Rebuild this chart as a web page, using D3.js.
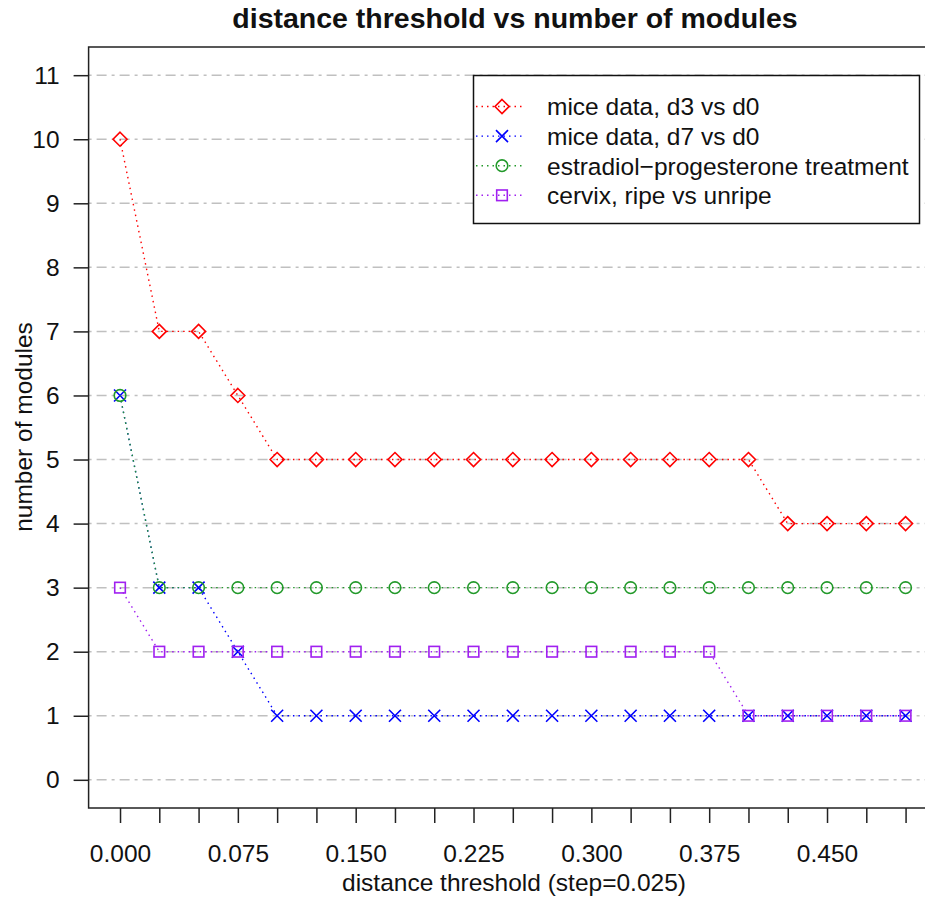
<!DOCTYPE html>
<html><head><meta charset="utf-8">
<script src="https://cdn.jsdelivr.net/npm/d3@7"></script>
<style>body{margin:0;background:#fff}svg{display:block;font-family:"Liberation Sans",Arial,sans-serif}</style>
</head><body><svg id="c" width="925" height="903"></svg>
<script>
const thresholds = d3.range(0, 21).map(i => +(i * 0.025).toFixed(3));
const miceD3 = [10,7,7,6,5,5,5,5,5,5,5,5,5,5,5,5,5,4,4,4,4];
const miceD7 = [6,3,3,2,1,1,1,1,1,1,1,1,1,1,1,1,1,1,1,1,1];
const estradiol = [6,3,3,3,3,3,3,3,3,3,3,3,3,3,3,3,3,3,3,3,3];
const cervix = [3,2,2,2,2,2,2,2,2,2,2,2,2,2,2,2,1,1,1,1,1];
const xTickLabels = ["0.000","0.075","0.150","0.225","0.300","0.375","0.450"];
const yTicks = d3.range(0, 12);
const seriesNames = ["mice data, d3 vs d0","mice data, d7 vs d0","estradiol\u2212progesterone treatment","cervix, ripe vs unripe"];
const seriesColors = ["#FF0000","#0000FF","#22992a","#A020F0"];
const seriesShapes = ["diamond","cross","circle","square"];
const seriesValues = [miceD3, miceD7, estradiol, cervix];

const FS = 24.5;
const svg = d3.select("#c");
const L = 88.6, R = 937, T = 47, B = 808;
const x = d3.scaleLinear().domain([-0.02, 0.52]).range([L, R]);
const y = d3.scaleLinear().domain([-0.44, 11.44]).range([B, T]);

// grid
svg.append("g").selectAll("line").data(yTicks).join("line")
  .attr("x1", L).attr("x2", R).attr("y1", d => y(d)).attr("y2", d => y(d))
  .attr("stroke", "#c0c0c0").attr("stroke-width", 1.5).attr("stroke-dasharray", "3,5,10,5");

// box
svg.append("rect").attr("x", L).attr("y", T).attr("width", R - L).attr("height", B - T)
  .attr("fill", "none").attr("stroke", "#222").attr("stroke-width", 1.5);

// y axis
const yAxis = d3.axisLeft(y).tickValues(yTicks).tickSize(15).tickPadding(14).tickFormat(d3.format("d"));
const gy = svg.append("g").attr("transform", `translate(${L},0)`).call(yAxis);
gy.select(".domain").remove();
gy.selectAll("line").attr("stroke", "#222").attr("stroke-width", 1.5);
gy.selectAll("text").attr("font-size", FS).attr("fill", "#111").attr("font-family", "Liberation Sans, Arial, sans-serif");

// x axis
const labelMap = new Map(xTickLabels.map(s => [+s, s]));
const xAxis = d3.axisBottom(x).tickValues(thresholds).tickSize(15).tickPadding(16)
  .tickFormat(d => labelMap.has(d) ? labelMap.get(d) : "");
const gx = svg.append("g").attr("transform", `translate(0,${B})`).call(xAxis);
gx.select(".domain").remove();
gx.selectAll("line").attr("stroke", "#222").attr("stroke-width", 1.5);
gx.selectAll("text").attr("font-size", FS).attr("fill", "#111").attr("font-family", "Liberation Sans, Arial, sans-serif")
  .attr("dy", null).attr("y", 54);

function marker(g, shape, color) {
  if (shape === "diamond") g.append("path").attr("d", "M0,-7L7,0L0,7L-7,0Z");
  else if (shape === "cross") g.append("path").attr("d", "M-6,-6L6,6M-6,6L6,-6");
  else if (shape === "circle") g.append("circle").attr("r", 5.8);
  else g.append("rect").attr("x", -5.3).attr("y", -5.3).attr("width", 10.6).attr("height", 10.6);
  g.selectAll("*").attr("fill", "none").attr("stroke", color).attr("stroke-width", 1.6);
}

const line = d3.line().x((d, i) => x(thresholds[i])).y(d => y(d));
seriesValues.forEach((vals, k) => {
  svg.append("path").datum(vals).attr("d", line).attr("fill", "none")
    .attr("stroke", seriesColors[k]).attr("stroke-width", 1.4).attr("stroke-dasharray", "1.5,4");
  svg.append("g").selectAll("g").data(vals).join("g")
    .attr("transform", (d, i) => `translate(${x(thresholds[i])},${y(d)})`)
    .each(function() { marker(d3.select(this), seriesShapes[k], seriesColors[k]); });
});

// legend
const lg = svg.append("g");
lg.append("rect").attr("x", 473.5).attr("y", 75.5).attr("width", 446).attr("height", 148)
  .attr("fill", "#fff").attr("stroke", "#111").attr("stroke-width", 1.5);
seriesNames.forEach((name, k) => {
  const cy = 106.5 + k * 29.6;
  lg.append("line").attr("x1", 476).attr("x2", 524).attr("y1", cy).attr("y2", cy)
    .attr("stroke", seriesColors[k]).attr("stroke-width", 1.4).attr("stroke-dasharray", "1.5,4");
  const g = lg.append("g").attr("transform", `translate(502,${cy})`);
  marker(g, seriesShapes[k], seriesColors[k]);
  lg.append("text").attr("x", 547).attr("y", cy).attr("dy", "0.36em")
    .attr("font-size", FS).attr("fill", "#111").text(name);
});

// titles
svg.append("text").attr("x", 515).attr("y", 28).attr("text-anchor", "middle")
  .attr("font-size", 28.5).attr("font-weight", "bold").attr("fill", "#111")
  .text("distance threshold vs number of modules");
svg.append("text").attr("x", 514).attr("y", 891).attr("text-anchor", "middle")
  .attr("font-size", FS).attr("fill", "#111").text("distance threshold (step=0.025)");
svg.append("text").attr("transform", "translate(32,427) rotate(-90)").attr("text-anchor", "middle")
  .attr("font-size", FS).attr("fill", "#111").text("number of modules");
</script></body></html>
